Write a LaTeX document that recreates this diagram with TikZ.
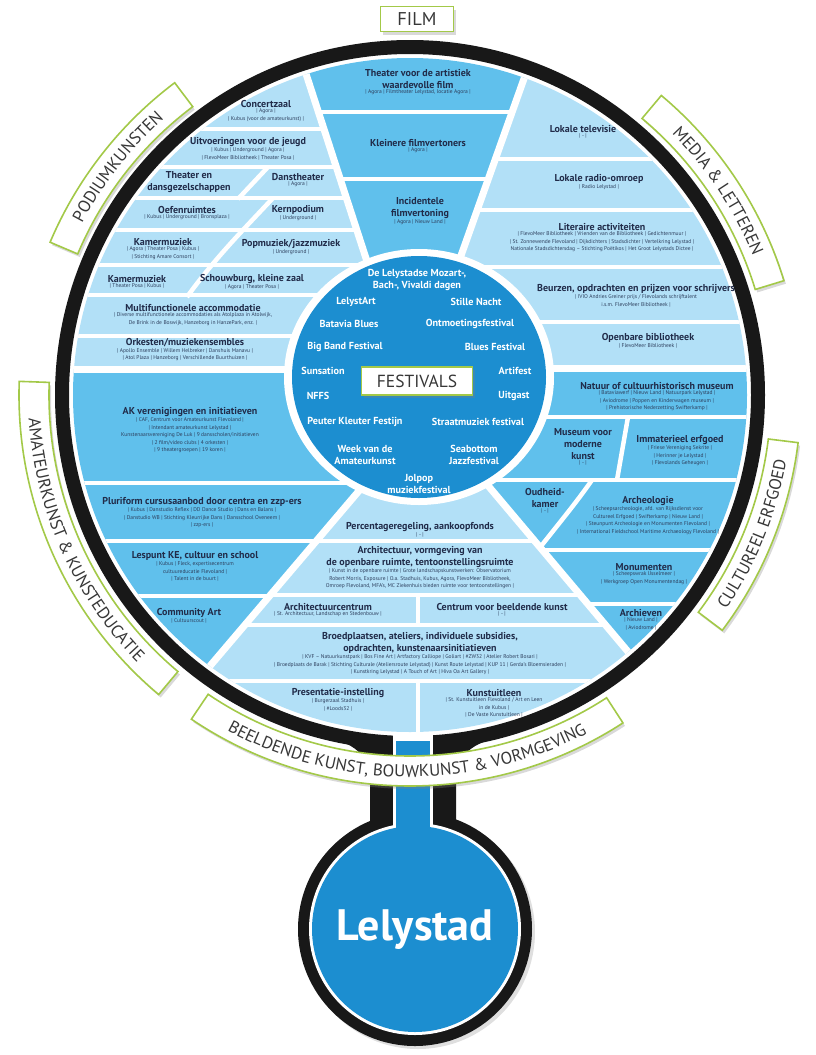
\documentclass[tikz,border=0pt]{standalone}
\usepackage{fontspec}
\setmainfont{PT Sans}
\usepackage{tikz}
\usetikzlibrary{positioning, calc, decorations.text, shadows}

\definecolor{RingColor}{RGB}{24,24,24}
\definecolor{LightSeg}{RGB}{178,224,247}
\definecolor{DarkSeg}{RGB}{96,192,236}
\definecolor{FestColor}{RGB}{28,142,208}
\definecolor{TitleColor}{RGB}{33,44,74}
\definecolor{SubColor}{RGB}{45,62,92}
\definecolor{LabelGreen}{RGB}{163,201,72}
\definecolor{LabelText}{RGB}{55,55,55}

\tikzstyle{blocktitle} = [font=\bfseries\fontsize{10}{12}\selectfont, text=TitleColor, align=center, inner sep=0pt]
\tikzstyle{blocksub} = [font=\fontsize{5.5}{7.4}\selectfont, text=SubColor, align=center, inner sep=0pt]
\tikzstyle{festtext} = [font=\bfseries\fontsize{10.2}{12.5}\selectfont, text=white, align=center, inner sep=0pt]
\tikzstyle{rowline} = [white, line width=4.5pt]
\tikzstyle{sectorline} = [white, line width=7pt]
\tikzstyle{catbox} = [draw=LabelGreen, line width=1.6pt, fill=white, drop shadow={shadow xshift=2pt, shadow yshift=-3pt, opacity=0.3}]

\newcommand{\catfont}{\fontsize{17}{17}\selectfont}
\newcommand{\catband}[2]{%
  \draw[catbox] ($(ctr)+(#1:361)$) arc[start angle=#1, end angle=#2, radius=361]
    -- ($(ctr)+(#2:391)$) arc[start angle=#2, end angle=#1, radius=391] -- cycle;}

\begin{document}
\begin{tikzpicture}[x=1pt, y=-1pt]
\useasboundingbox (0,0) rectangle (815,1055);
\coordinate (ctr) at (410,395);
\coordinate (fest) at (419,377);
\coordinate (lely) at (415,929);

% Podiumkunsten
\begin{scope}
  \clip (ctr) circle[radius=337];
  \clip (0,369) -- (402,369) -- (282,0) -- (0,0) -- cycle;
  \fill[LightSeg] (0,0) rectangle (815,815);
  \foreach \y in {129,167,198,230,265,295,336} \draw[rowline] (0,\y) -- (815,\y);
  \draw[rowline] (268,167) -- (238,199);
  \draw[rowline] (273,198) .. controls (245,228) and (215,258) .. (187,297);
\end{scope}

% Film
\begin{scope}
  \clip (ctr) circle[radius=337];
  \clip (402,369) -- (282,0) -- (552,0) -- (421,368) -- cycle;
  \fill[DarkSeg] (0,0) rectangle (815,815);
  \foreach \y in {112,179} \draw[rowline] (0,\y) -- (815,\y);
\end{scope}

% Media & letteren
\begin{scope}
  \clip (ctr) circle[radius=337];
  \clip (421,368) -- (552,0) -- (815,0) -- (815,368) -- cycle;
  \fill[LightSeg] (0,0) rectangle (815,815);
  \foreach \y in {159,210,267,322} \draw[rowline] (0,\y) -- (815,\y);
\end{scope}

% Cultureel erfgoed
\begin{scope}
  \clip (ctr) circle[radius=337];
  \clip (388,368) -- (815,368) -- (815,800) -- (753,800) -- cycle;
  \fill[DarkSeg] (0,0) rectangle (815,815);
  \foreach \y in {417,480,550,604} \draw[rowline] (0,\y) -- (815,\y);
  \draw[rowline] (628,417) -- (617,480);
  \draw[rowline] (592,480) .. controls (576,503) and (560,522) .. (538,550);
\end{scope}

% Beeldende kunst
\begin{scope}
  \clip (ctr) circle[radius=337];
  \clip (426,412) -- (753,800) -- (96,800) -- cycle;
  \fill[LightSeg] (0,0) rectangle (815,815);
  \foreach \y in {541,595,625,681} \draw[rowline] (0,\y) -- (815,\y);
  \draw[rowline] (418,595) -- (418,625);
  \draw[rowline] (418,681) -- (418,760);
\end{scope}

% Amateurkunst
\begin{scope}
  \clip (ctr) circle[radius=337];
  \clip (0,369) -- (462,369) -- (96,800) -- (0,800) -- cycle;
  \fill[DarkSeg] (0,0) rectangle (815,815);
  \foreach \y in {483,541,596} \draw[rowline] (0,\y) -- (815,\y);
\end{scope}

% Sector borders
\begin{scope}
  \clip (ctr) circle[radius=337];
  \draw[sectorline] (402,369) -- (282,0);
  \draw[sectorline] (421,368) -- (552,0);
  \draw[sectorline] (0,369) -- (420,369);
  \draw[sectorline] (420,368) -- (815,368);
  \draw[sectorline] (426,412) -- (753,800);
  \draw[sectorline] (426,412) -- (96,800);
\end{scope}

% Ring
\draw[RingColor, line width=14pt] (ctr) circle[radius=348];

% Stem and Lelystad
\fill[RingColor] (328,738) .. controls (358,744) and (370,758) .. (370,785) -- (370,840) -- (456,840) -- (456,785) .. controls (456,758) and (468,744) .. (498,738) -- cycle;
\fill[RingColor, drop shadow={shadow xshift=3pt, shadow yshift=-3pt, opacity=0.25}] (lely) circle[radius=117];
\fill[white] (393,733) rectangle (433,835);
\fill[white] (lely) circle[radius=106];
\fill[FestColor] (lely) circle[radius=103];
\fill[FestColor] (396,741) rectangle (430,840);
\node[font=\bfseries\fontsize{44}{44}\selectfont, text=white] (lelystad) at (415,930) {Lelystad};

% Festivals
\fill[white] (fest) ellipse[x radius=135, y radius=128];
\fill[FestColor] (fest) ellipse[x radius=127, y radius=121];
\node[catbox, minimum width=111pt, minimum height=28pt, inner sep=0pt, text=LabelText, font=\fontsize{17.5}{17.5}\selectfont] (festivals) at (417,381) {FESTIVALS};
\node[festtext] (mozart) at (417,280) {De Lelystadse Mozart-,\\Bach-, Vivaldi dagen};
\node[festtext] (lelystart) at (356,302) {LelystArt};
\node[festtext] (stillenacht) at (476,302) {Stille Nacht};
\node[festtext] (batavia) at (349,324) {Batavia Blues};
\node[festtext] (ontmoeting) at (470,324) {Ontmoetingsfestival};
\node[festtext] (bigband) at (345,347) {Big Band Festival};
\node[festtext] (blues) at (495,347) {Blues Festival};
\node[festtext] (sunsation) at (323,371) {Sunsation};
\node[festtext] (artifest) at (515,371) {Artifest};
\node[festtext] (nffs) at (318,396) {NFFS};
\node[festtext] (uitgast) at (514,396) {Uitgast};
\node[festtext] (peuter) at (355,422) {Peuter Kleuter Festijn};
\node[festtext] (straat) at (478,422) {Straatmuziek festival};
\node[festtext] (weekvan) at (365,455) {Week van de\\Amateurkunst};
\node[festtext] (seabottom) at (474,455) {Seabottom\\Jazzfestival};
\node[festtext] (jolpop) at (419,484) {Jolpop\\muziekfestival};

% Film
\node[blocktitle] (artfilm) at (418,79) {Theater voor de artistiek\\waardevolle film};
\node[blocksub, below=1pt of artfilm] (artfilmsub) {| Agora | Filmtheater Lelystad, locatie Agora |};
\node[blocktitle] (kleinfilm) at (418,143) {Kleinere filmvertoners};
\node[blocksub, below=1pt of kleinfilm] (kleinfilmsub) {| Agora |};
\node[blocktitle] (incfilm) at (420,208) {Incidentele\\filmvertoning};
\node[blocksub, below=1pt of incfilm] (incfilmsub) {| Agora | Nieuw Land |};

% Media & letteren
\node[blocktitle] (tv) at (583,129) {Lokale televisie};
\node[blocksub, below=1pt of tv] (tvsub) {| - |};
\node[blocktitle] (radio) at (599,179) {Lokale radio-omroep};
\node[blocksub, below=1pt of radio] (radiosub) {| Radio Lelystad |};
\node[blocktitle] (literair) at (602,227) {Literaire activiteiten};
\node[blocksub, below=1pt of literair] (literairsub) {| FlevoMeer Bibliotheek | Vrienden van de Bibliotheek | Gedichtenmuur |\\| St. Zonnewende Flevoland | Dijkdichters | Stadsdichter | Vertelkring Lelystad |\\Nationale Stadsdichtersdag – Stichting Poëtikos | Het Groot Lelystads Dictee |};
\node[blocktitle] (beurzen) at (636,289) {Beurzen, opdrachten en prijzen voor schrijvers};
\node[blocksub, below=1pt of beurzen] (beurzensub) {| IVIO Andries Greiner prijs / Flevolands schrijftalent\\i.s.m. FlevoMeer Bibliotheek |};
\node[blocktitle] (bieb) at (648,338) {Openbare bibliotheek};
\node[blocksub, below=1pt of bieb] (biebsub) {| FlevoMeer Bibliotheek |};

% Podiumkunsten
\node[blocktitle] (concertzaal) at (266,104) {Concertzaal};
\node[blocksub, below=1pt of concertzaal] (concertzaalsub) {| Agora |\\| Kubus (voor de amateurkunst) |};
\node[blocktitle] (jeugd) at (248,142) {Uitvoeringen voor de jeugd};
\node[blocksub, below=1pt of jeugd] (jeugdsub) {| Kubus | Underground | Agora |\\| FlevoMeer Bibliotheek | Theater Posa |};
\node[blocktitle] (theaterdans) at (189,182) {Theater en\\dansgezelschappen};
\node[blocktitle] (danstheater) at (298,177) {Danstheater};
\node[blocksub, below=1pt of danstheater] (danstheatersub) {| Agora |};
\node[blocktitle] (oefen) at (187,210) {Oefenruimtes};
\node[blocksub, below=1pt of oefen] (oefensub) {| Kubus | Underground | Bronsplaza |};
\node[blocktitle] (kernpodium) at (298,210) {Kernpodium};
\node[blocksub, below=1pt of kernpodium] (kernpodiumsub) {| Underground |};
\node[blocktitle] (kamer1) at (163,242) {Kamermuziek};
\node[blocksub, below=1pt of kamer1] (kamer1sub) {| Agora | Theater Posa | Kubus |\\| Stichting Amare Consort |};
\node[blocktitle] (popjazz) at (291,244) {Popmuziek/jazzmuziek};
\node[blocksub, below=1pt of popjazz] (popjazzsub) {| Underground |};
\node[blocktitle] (kamer2) at (137,279) {Kamermuziek};
\node[blocksub, below=1pt of kamer2] (kamer2sub) {| Theater Posa | Kubus |};
\node[blocktitle] (schouwburg) at (252,279) {Schouwburg, kleine zaal};
\node[blocksub, below=1pt of schouwburg] (schouwburgsub) {| Agora | Theater Posa |};
\node[blocktitle] (multifunc) at (193,308) {Multifunctionele accommodatie};
\node[blocksub, below=1pt of multifunc] (multifuncsub) {| Diverse multifunctionele accommodaties als Atolplaza in Atolwijk,\\De Brink in de Boswijk, Hanzeborg in HanzePark, enz. |};
\node[blocktitle] (orkesten) at (185,343) {Orkesten/muziekensembles};
\node[blocksub, below=1pt of orkesten] (orkestensub) {| Apollo Ensemble | Willem Helbreker | Danshuis Manavu |\\| Atol Plaza | Hanzeborg | Verschillende Buurthuizen |};

% Amateurkunst & kunsteducatie
\node[blocktitle] (akver) at (190,412) {AK verenigingen en initiatieven};
\node[blocksub, below=1pt of akver] (akversub) {| CAF, Centrum voor Amateurkunst Flevoland |\\| Intendant amateurkunst Lelystad |\\Kunstenaarsvereniging De Luk | 9 dansscholen/initiatieven\\| 2 film/video clubs | 4 orkesten |\\| 9 theatergroepen | 19 koren |};
\node[blocktitle] (pluriform) at (202,502) {Pluriform cursusaanbod door centra en zzp-ers};
\node[blocksub, below=1pt of pluriform] (pluriformsub) {| Kubus | Danstudio Reflex | DD Dance Studio | Dans en Balans |\\| Danstudio WB | Stichting Kleurrijke Dans | Dansschool Oveneem |\\| zzp-ers |};
\node[blocktitle] (lespunt) at (195,556) {Lespunt KE, cultuur en school};
\node[blocksub, below=1pt of lespunt] (lespuntsub) {| Kubus | Fleck, expertisecentrum\\cultuureducatie Flevoland |\\| Talent in de buurt |};
\node[blocktitle] (community) at (189,613) {Community Art};
\node[blocksub, below=1pt of community] (communitysub) {| Cultuurscout |};

% Cultureel erfgoed
\node[blocktitle] (natuur) at (657,386) {Natuur of cultuurhistorisch museum};
\node[blocksub, below=1pt of natuur] (natuursub) {| Bataviawerf | Nieuw Land | Natuurpark Lelystad |\\| Aviodrome | Poppen en Kinderwagen museum |\\| Prehistorische Nederzetting Swifterkamp |};
\node[blocktitle] (moderne) at (583,444) {Museum voor\\moderne\\kunst};
\node[blocksub, below=1pt of moderne] (modernesub) {| - |};
\node[blocktitle] (immaterieel) at (680,440) {Immaterieel erfgoed};
\node[blocksub, below=1pt of immaterieel] (immaterieelsub) {| Friese Vereniging Sekrite |\\| Herinner je Lelystad |\\| Flevolands Geheugen |};
\node[blocktitle] (oudheid) at (545,498) {Oudheid-\\kamer};
\node[blocksub, below=1pt of oudheid] (oudheidsub) {| - |};
\node[blocktitle] (archeologie) at (648,501) {Archeologie};
\node[blocksub, below=1pt of archeologie] (archeologiesub) {| Scheepsarcheologie, afd. van Rijksdienst voor\\Cultureel Erfgoed | Swifterkamp | Nieuw Land |\\| Steunpunt Archeologie en Monumenten Flevoland |\\| International Fieldschool Maritime Archaeology Flevoland |};
\node[blocktitle] (monumenten) at (644,567) {Monumenten};
\node[blocksub, below=1pt of monumenten] (monumentensub) {| Scheepswrak IJsselmeer |\\| Werkgroep Open Monumentendag |};
\node[blocktitle] (archieven) at (641,613) {Archieven};
\node[blocksub, below=1pt of archieven] (archievensub) {| Nieuw Land |\\| Aviodrome |};

% Beeldende kunst
\node[blocktitle] (percentage) at (420,527) {Percentageregeling, aankoopfonds};
\node[blocksub, below=1pt of percentage] (percentagesub) {| - |};
\node[blocktitle] (architectuur) at (420,557) {Architectuur, vormgeving van\\de openbare ruimte, tentoonstellingsruimte};
\node[blocksub, below=1pt of architectuur] (architectuursub) {| Kunst in de openbare ruimte | Grote landschapskunstwerken: Observatorium\\Robert Morris, Exposure | O.a. Stadhuis, Kubus, Agora, FlevoMeer Bibliotheek,\\Omroep Flevoland, MFA's, MC Ziekenhuis bieden ruimte voor tentoonstellingen |};
\node[blocktitle] (archcentrum) at (328,607) {Architectuurcentrum};
\node[blocksub, below=1pt of archcentrum] (archcentrumsub) {| St. Architectuur, Landschap en Stedenbouw |};
\node[blocktitle] (cbk) at (502,607) {Centrum voor  beeldende kunst};
\node[blocksub, below=1pt of cbk] (cbksub) {| - |};
\node[blocktitle] (broed) at (420,643) {Broedplaatsen, ateliers, individuele subsidies,\\opdrachten, kunstenaarsinitiatieven};
\node[blocksub, below=1pt of broed] (broedsub) {| KVF – Natuurkunstpark | Bos Fine Art | Artfactory Calliope | Goliart | \#ZW32 | Atelier Robert Bosari |\\| Broedplaats de Barak | Stichting Culturale (Ateliersroute Lelystad) | Kunst Route Lelystad | KUP 11 | Gerda's Bloemsieraden |\\| Kunstkring Lelystad | A Touch of Art | Hiva Oa Art Gallery |};
\node[blocktitle] (presentatie) at (338,693) {Presentatie-instelling};
\node[blocksub, below=1pt of presentatie] (presentatiesub) {| Burgerzaal Stadhuis |\\| \#Loods32 |};
\node[blocktitle] (kunstuitleen) at (494,693) {Kunstuitleen};
\node[blocksub, below=1pt of kunstuitleen] (kunstuitleensub) {| St. Kunstuitleen Flevoland / Art en Leen\\in de Kubus |\\| De Vaste Kunstuitleen |};

% Category labels
\node[catbox, minimum width=73pt, minimum height=25pt, inner sep=0pt, text=LabelText, font=\fontsize{18.5}{18.5}\selectfont] (film) at (417,19) {FILM};
\catband{-157}{-127}
\catband{-50}{-17}
\catband{7}{37}
\catband{-230}{-178}
\catband{-303}{-236}
\path[decorate, decoration={text along path, text align=center, text color=LabelText, text={|\catfont|PODIUMKUNSTEN}}]
  ($(ctr)+(-157:370)$) arc[start angle=-157, end angle=-127, radius=370];
\path[decorate, decoration={text along path, text align=center, text color=LabelText, text={|\catfont|MEDIA {\&} LETTEREN}}]
  ($(ctr)+(-50:370)$) arc[start angle=-50, end angle=-17, radius=370];
\path[decorate, decoration={text along path, text align=center, text color=LabelText, text={|\catfont|CULTUREEL ERFGOED}}]
  ($(ctr)+(37:382)$) arc[start angle=37, end angle=7, radius=382];
\path[decorate, decoration={text along path, text align=center, text color=LabelText, text={|\catfont|AMATEURKUNST {\&} KUNSTEDUCATIE}}]
  ($(ctr)+(-178:382)$) arc[start angle=-178, end angle=-230, radius=382];
\path[decorate, decoration={text along path, text align=center, text color=LabelText, text={|\catfont|BEELDENDE KUNST, BOUWKUNST {\&} VORMGEVING}}]
  ($(ctr)+(-236:382)$) arc[start angle=-236, end angle=-303, radius=382];
\end{tikzpicture}
\end{document}
